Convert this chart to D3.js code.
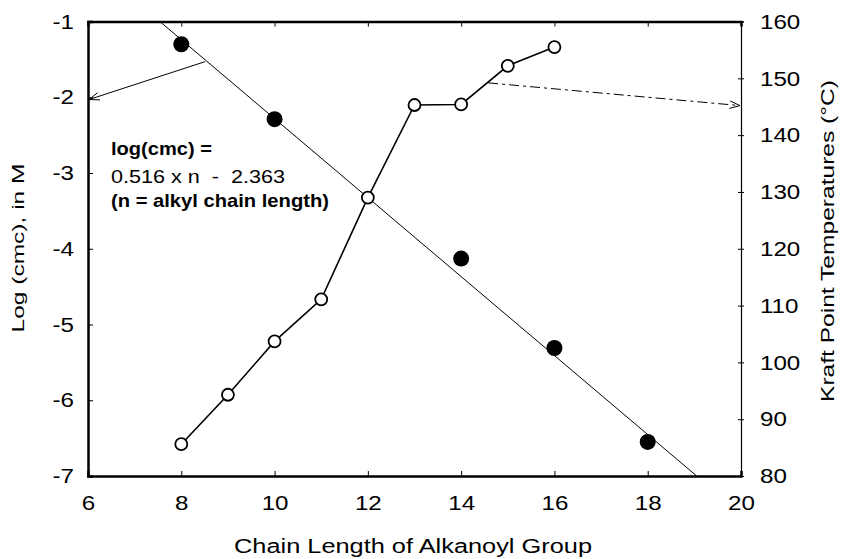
<!DOCTYPE html>
<html>
<head>
<meta charset="utf-8">
<script src="https://cdn.jsdelivr.net/npm/d3@7"></script>
<style>
  body { margin: 0; background: #fff; }
  svg { font-family: "Liberation Sans", Arial, sans-serif; }
</style>
</head>
<body>
<div id="chart"></div>
<script>
// chain length (n) and log(cmc), filled circles, left axis
var cmcN = [8, 10, 14, 16, 18];
var cmcLog = [-1.30, -2.29, -4.13, -5.31, -6.55];

// chain length (n) and Krafft point, open circles, right axis
var kraftN = [8, 9, 10, 11, 12, 13, 14, 15, 16];
var kraftT = [85.6, 94.3, 103.7, 111.1, 129.0, 145.3, 145.4, 152.2, 155.5];

// fitted line end points (n, log cmc)
var fitN = [7.54, 19.05];
var fitLog = [-1, -7];

// tick labels
var xTicks = [6, 8, 10, 12, 14, 16, 18, 20];
var yLeftTicks = [-1, -2, -3, -4, -5, -6, -7];
var yRightTicks = [80, 90, 100, 110, 120, 130, 140, 150, 160];

// annotation text
var noteLines = ["log(cmc) =", "0.516 x n  -  2.363", "(n = alkyl chain length)"];

// arrows: from a point on a curve to the axis
var arrowLeft = { n0: 8.51, v0: -1.53, n1: 6, v1: -2.03 };
var arrowRight = { n0: 14.58, t0: 149.2, n1: 20, t1: 145.2 };

var margin = { top: 21.5, right: 107, bottom: 83, left: 88 };
var width = 848 - margin.left - margin.right;
var height = 559 - margin.top - margin.bottom;

var svg = d3.select("#chart")
  .append("svg")
  .attr("width", 848)
  .attr("height", 559);

var g = svg.append("g")
  .attr("transform", "translate(" + margin.left + "," + margin.top + ")");

var x = d3.scaleLinear().domain([6, 20]).range([0, width]);
var yL = d3.scaleLinear().domain([-7, -1]).range([height, 0]);
var yR = d3.scaleLinear().domain([80, 160]).range([height, 0]);

// plain hyphen for negatives, like the original
var fmt = function (d) { return String(d); };

var bottomAxis = g.append("g")
  .attr("transform", "translate(0," + height + ")")
  .call(d3.axisBottom(x).tickValues(xTicks).tickSize(-5).tickPadding(19).tickFormat(fmt));

var topAxis = g.append("g")
  .call(d3.axisTop(x).tickValues(xTicks).tickSize(-5).tickFormat(""));

var leftAxis = g.append("g")
  .call(d3.axisLeft(yL).tickValues(yLeftTicks).tickSize(-5).tickPadding(14).tickFormat(fmt));

var rightAxis = g.append("g")
  .attr("transform", "translate(" + width + ",0)")
  .call(d3.axisRight(yR).tickValues(yRightTicks).tickSize(3).tickPadding(16).tickFormat(fmt));

rightAxis.selectAll(".tick line").attr("x1", -3);

[bottomAxis, topAxis, leftAxis, rightAxis].forEach(function (a) {
  a.selectAll("text")
    .style("font-size", "21px")
    .style("transform-box", "fill-box")
    .style("transform", "scaleX(1.15)")
    .attr("fill", "#000");
  a.selectAll("line").attr("stroke", "#000");
  a.select(".domain").attr("stroke", "#000");
});
bottomAxis.selectAll("text").style("transform-origin", "center");
leftAxis.selectAll("text").style("transform-origin", "right center");
rightAxis.selectAll("text").style("transform-origin", "left center");

bottomAxis.select(".domain").attr("stroke-width", 2.5);
topAxis.select(".domain").attr("stroke-width", 2.5);
leftAxis.select(".domain").attr("stroke-width", 2.5);
rightAxis.select(".domain").attr("stroke-width", 1.2);

// fitted line
g.append("line")
  .attr("x1", x(fitN[0])).attr("y1", yL(fitLog[0]))
  .attr("x2", x(fitN[1])).attr("y2", yL(fitLog[1]))
  .attr("stroke", "#000")
  .attr("stroke-width", 1);

// Krafft point curve
var kraftData = kraftN.map(function (n, i) { return { n: n, t: kraftT[i] }; });
g.append("path")
  .datum(kraftData)
  .attr("fill", "none")
  .attr("stroke", "#000")
  .attr("stroke-width", 1.6)
  .attr("d", d3.line()
    .x(function (d) { return x(d.n); })
    .y(function (d) { return yR(d.t); }));

g.selectAll(".kraft")
  .data(kraftData)
  .enter()
  .append("circle")
  .attr("class", "kraft")
  .attr("cx", function (d) { return x(d.n); })
  .attr("cy", function (d) { return yR(d.t); })
  .attr("r", 6)
  .attr("fill", "#fff")
  .attr("stroke", "#000")
  .attr("stroke-width", 1.8);

// cmc points
var cmcData = cmcN.map(function (n, i) { return { n: n, v: cmcLog[i] }; });
g.selectAll(".cmc")
  .data(cmcData)
  .enter()
  .append("circle")
  .attr("class", "cmc")
  .attr("cx", function (d) { return x(d.n); })
  .attr("cy", function (d) { return yL(d.v); })
  .attr("r", 8)
  .attr("fill", "#000");

// arrows
function drawArrow(x0, y0, x1, y1, dash) {
  g.append("line")
    .attr("x1", x0).attr("y1", y0)
    .attr("x2", x1).attr("y2", y1)
    .attr("stroke", "#000")
    .attr("stroke-width", 1)
    .attr("stroke-dasharray", dash || null);
  var ang = Math.atan2(y1 - y0, x1 - x0);
  var len = 11, spread = 0.35;
  [ang + Math.PI - spread, ang + Math.PI + spread].forEach(function (a) {
    g.append("line")
      .attr("x1", x1).attr("y1", y1)
      .attr("x2", x1 + len * Math.cos(a)).attr("y2", y1 + len * Math.sin(a))
      .attr("stroke", "#000")
      .attr("stroke-width", 1);
  });
}
drawArrow(x(arrowLeft.n0), yL(arrowLeft.v0), x(arrowLeft.n1) + 1, yL(arrowLeft.v1));
drawArrow(x(arrowRight.n0), yR(arrowRight.t0), x(arrowRight.n1) - 1, yR(arrowRight.t1), "10,4,3,4");

// annotation (baselines and widths)
var noteY = [155, 183, 207];
var noteW = [101, 174, 218];
svg.selectAll(".note")
  .data(noteLines)
  .enter()
  .append("text")
  .attr("class", "note")
  .attr("x", 111)
  .attr("y", function (d, i) { return noteY[i]; })
  .attr("textLength", function (d, i) { return noteW[i]; })
  .attr("lengthAdjust", "spacingAndGlyphs")
  .attr("fill", "#000")
  .style("white-space", "pre")
  .style("font-size", "19px")
  .style("font-weight", function (d, i) { return i === 1 ? "normal" : "bold"; })
  .text(function (d) { return d; });

// axis titles
svg.append("text")
  .attr("x", 413)
  .attr("y", 553)
  .attr("text-anchor", "middle")
  .attr("textLength", 358)
  .attr("lengthAdjust", "spacingAndGlyphs")
  .attr("fill", "#000")
  .style("font-size", "20px")
  .text("Chain Length of Alkanoyl Group");

svg.append("text")
  .attr("transform", "translate(24,248) rotate(-90)")
  .attr("text-anchor", "middle")
  .attr("textLength", 169)
  .attr("lengthAdjust", "spacingAndGlyphs")
  .attr("fill", "#000")
  .style("font-size", "17px")
  .text("Log (cmc), in M");

svg.append("text")
  .attr("transform", "translate(834,241) rotate(-90)")
  .attr("text-anchor", "middle")
  .attr("textLength", 322)
  .attr("lengthAdjust", "spacingAndGlyphs")
  .attr("fill", "#000")
  .style("font-size", "19px")
  .text("Kraft Point Temperatures (°C)");
</script>
</body>
</html>
